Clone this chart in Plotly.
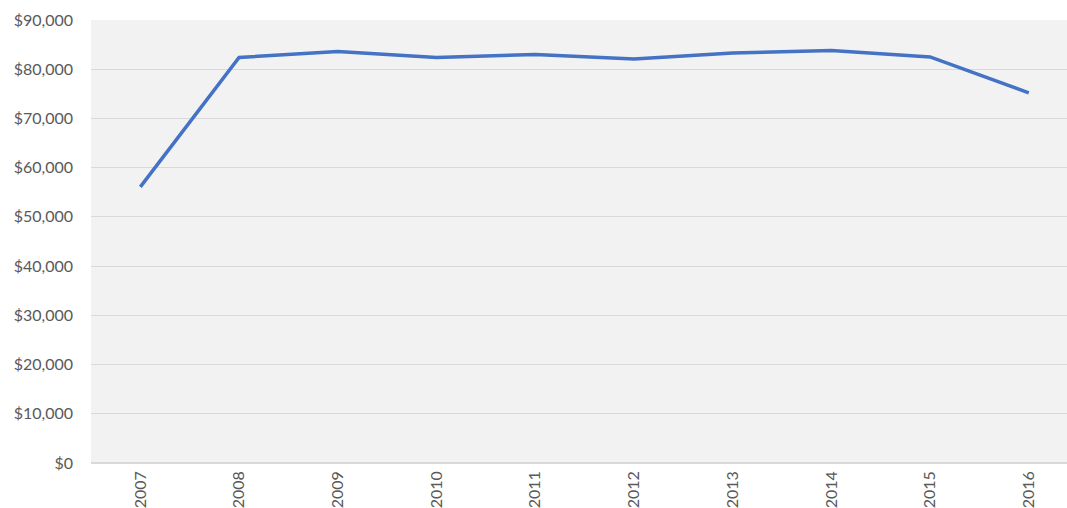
import plotly.graph_objects as go

years = ["2007", "2008", "2009", "2010", "2011", "2012", "2013", "2014", "2015", "2016"]
values = [56100, 82400, 83600, 82400, 83000, 82100, 83300, 83800, 82500, 75200]

fig = go.Figure(go.Scatter(
    x=years, y=values, mode="lines",
    line=dict(color="#4472C4", width=3.5),
    showlegend=False, hoverinfo="skip",
))

fig.update_layout(
    width=1067, height=508,
    margin=dict(l=91, r=0, t=20, b=45, autoexpand=False),
    paper_bgcolor="white", plot_bgcolor="#f2f2f2",
    font=dict(family="Lato, Carlito, sans-serif", size=16, color="#595959"),
    xaxis=dict(
        type="category", range=[-0.5, 9.387], automargin=False,
        tickangle=-90, showgrid=False, showline=False, zeroline=False,
        tickfont=dict(size=16), ticks="", ticklabelstandoff=4,
    ),
    yaxis=dict(
        range=[0, 90000], dtick=10000, tickprefix="$", tickformat=",",
        gridcolor="#d9d9d9", gridwidth=1, zeroline=True, zerolinecolor="#d9d9d9",
        showline=False, ticks="", automargin=False, ticklabelstandoff=17,
    ),
)

# drop the default body margin and scrollbars so the figure fills the window
fig.write_html(
    "out.html",
    config={"displayModeBar": False},
    post_script="document.body.style.margin='0';document.body.style.overflow='hidden';",
)
